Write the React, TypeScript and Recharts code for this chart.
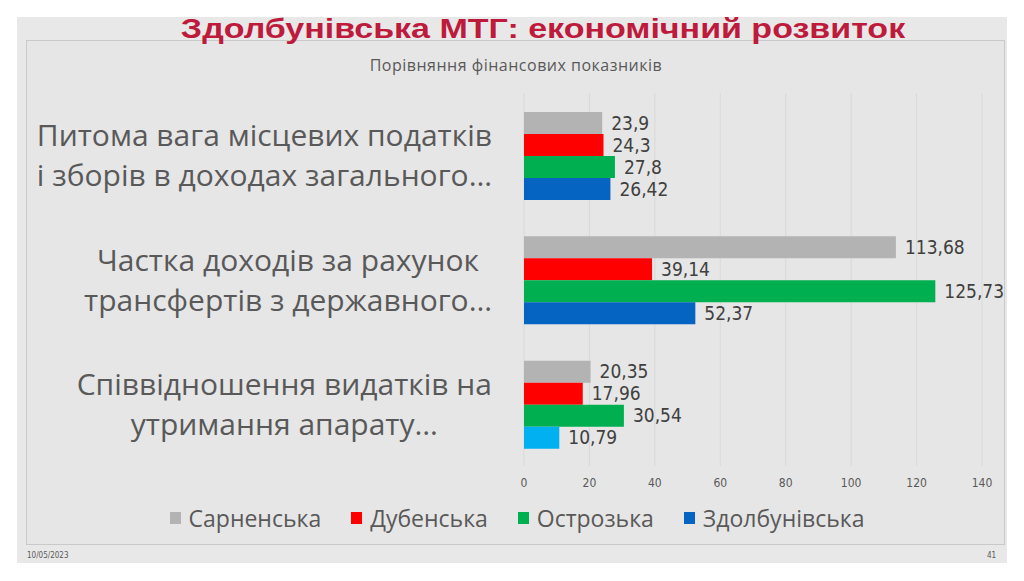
import { BarChart, Bar, XAxis, YAxis, CartesianGrid, Legend, LabelList, Cell } from 'recharts';

const categories = [
  'Питома вага місцевих податків\nі зборів в доходах загального…',
  'Частка доходів за рахунок\nтрансфертів з державного…',
  'Співвідношення видатків на\nутримання апарату…',
];
const sarnenska = [23.9, 113.68, 20.35];
const dubenska = [24.3, 39.14, 17.96];
const ostrozka = [27.8, 125.73, 30.54];
const zdolbunivska = [26.42, 52.37, 10.79];
const xTicks = [0, 20, 40, 60, 80, 100, 120, 140];

const series = [
  { key: 'sarnenska', name: 'Сарненська', color: '#b3b3b3' },
  { key: 'dubenska', name: 'Дубенська', color: '#ff0000' },
  { key: 'ostrozka', name: 'Острозька', color: '#00b050' },
  { key: 'zdolbunivska', name: 'Здолбунівська', color: '#0563c1' },
];
// the last group's Здолбунівська bar is drawn in light blue
const zdolbunivskaCellColors = ['#0563c1', '#0563c1', '#00b0f0'];

const data = categories.map((name, i) => ({
  name,
  sarnenska: sarnenska[i],
  dubenska: dubenska[i],
  ostrozka: ostrozka[i],
  zdolbunivska: zdolbunivska[i],
}));

const GRAY = '#595959';
const CAT_FONT = '30px "Open Sans"';
const NARROW = '"Liberation Sans Narrow", "DejaVu Sans Condensed", "Open Sans", sans-serif';

let ctx: CanvasRenderingContext2D | null = null;
function textWidth(s: string, font: string) {
  if (!ctx) ctx = document.createElement('canvas').getContext('2d');
  if (!ctx) return s.length * 15;
  ctx.font = font;
  return ctx.measureText(s).width;
}

// multi-line category label: lines centred on each other, block right-aligned
function CategoryTick(props: any) {
  const { x, y, payload } = props;
  const lines: string[] = String(payload.value).split('\n');
  const maxW = Math.max(...lines.map((l) => textWidth(l, CAT_FONT)));
  const cx = x - 24 - maxW / 2;
  return (
    <g>
      {lines.map((l, i) => (
        <text
          key={i}
          x={cx}
          y={y - 9 + i * 40}
          textAnchor="middle"
          fill={GRAY}
          style={{ font: CAT_FONT }}
        >
          {l}
        </text>
      ))}
    </g>
  );
}

const fmt = (v: any) => String(v).replace('.', ',');

function LegendContent() {
  return (
    <div
      style={{
        display: 'flex',
        justifyContent: 'center',
        alignItems: 'center',
        gap: 30,
        height: 30,
        fontFamily: '"Open Sans", sans-serif',
        fontSize: 23,
        color: GRAY,
      }}
    >
      {series.map((s) => (
        <div key={s.key} style={{ display: 'flex', alignItems: 'center' }}>
          <span style={{ width: 11, height: 12, background: s.color, marginRight: 8 }} />
          <span>{s.name}</span>
        </div>
      ))}
    </div>
  );
}

export default function App() {
  return (
    <div style={{ position: 'relative', width: 1024, height: 581, background: '#fff', overflow: 'hidden' }}>
      <style>{'body{margin:0}'}</style>
      <div style={{ position: 'absolute', left: 17, top: 17, width: 990, height: 546, background: '#e8e8e8' }} />
      <div
        style={{
          position: 'absolute',
          left: 26,
          top: 40,
          width: 977,
          height: 503,
          border: '1px solid #c9c9c9',
          background: '#e6e6e6',
        }}
      />
      <div
        style={{
          position: 'absolute',
          left: 0,
          width: 1086,
          top: 11,
          textAlign: 'center',
          fontFamily: '"Liberation Sans", Arial, sans-serif',
          fontWeight: 700,
          fontSize: 34,
          color: '#be1a3c',
          lineHeight: '34px',
          transform: 'scaleY(0.82)',
        }}
      >
        Здолбунівська МТГ: економічний розвиток
      </div>
      <div
        style={{
          position: 'absolute',
          left: 0,
          width: 1032,
          top: 54,
          textAlign: 'center',
          fontFamily: '"Open Sans", sans-serif',
          fontSize: 16,
          letterSpacing: 0.5,
          color: GRAY,
        }}
      >
        Порівняння фінансових показників
      </div>
      <div style={{ position: 'absolute', left: 27, top: 551, fontFamily: NARROW, fontSize: 8, color: GRAY }}>
        10/05/2023
      </div>
      <div style={{ position: 'absolute', left: 987, top: 551, fontFamily: NARROW, fontSize: 8, color: GRAY }}>
        41
      </div>
      <div style={{ position: 'absolute', left: 0, top: 0 }}>
        <BarChart
          width={1024}
          height={581}
          data={data}
          layout="vertical"
          margin={{ top: 93, right: 42, bottom: 55, left: 0 }}
          barCategoryGap="15.3%"
          barGap={0}
        >
          <CartesianGrid horizontal={false} stroke="#d9d9d9" />
          <XAxis
            type="number"
            domain={[0, 140]}
            ticks={xTicks}
            axisLine={false}
            tickLine={false}
            height={30}
            tick={{ fontSize: 12, fill: GRAY, fontFamily: NARROW }}
            dy={4}
          />
          <YAxis
            type="category"
            dataKey="name"
            width={524}
            axisLine={false}
            tickLine={false}
            tick={<CategoryTick />}
          />
          <Legend
            content={<LegendContent />}
            wrapperStyle={{ top: 503, left: 0, width: 1034, height: 30, bottom: 'auto' }}
          />
          {series.map((s) => (
            <Bar key={s.key} dataKey={s.key} name={s.name} fill={s.color} isAnimationActive={false}>
              {s.key === 'zdolbunivska' &&
                zdolbunivskaCellColors.map((c, i) => <Cell key={i} fill={c} />)}
              <LabelList
                dataKey={s.key}
                position="right"
                offset={9}
                formatter={fmt}
                style={{ fontSize: 19, fill: '#404040', fontFamily: NARROW }}
              />
            </Bar>
          ))}
        </BarChart>
      </div>
    </div>
  );
}
